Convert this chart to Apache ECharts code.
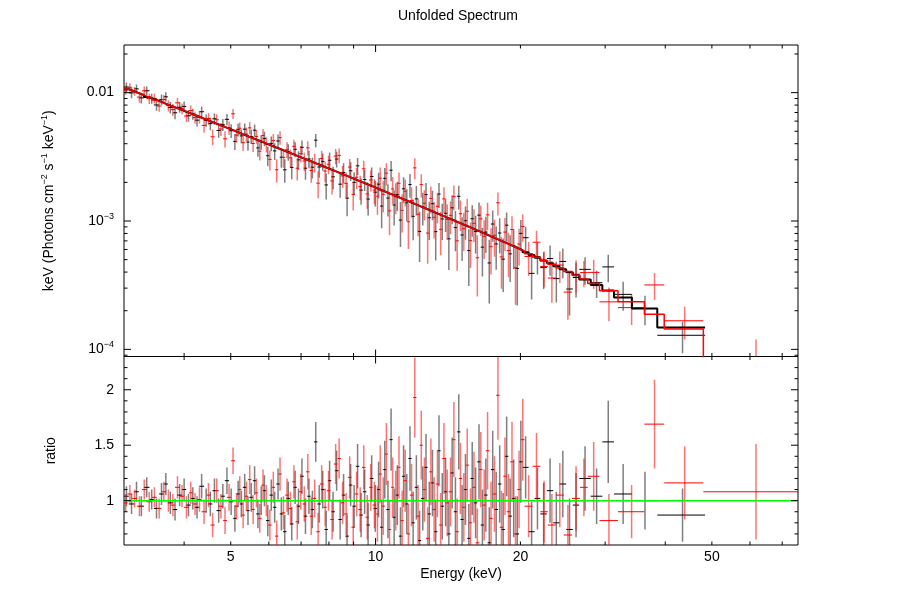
<!DOCTYPE html>
<html><head><meta charset="utf-8">
<script src="https://cdn.jsdelivr.net/npm/echarts@6/dist/echarts.min.js"></script>
<style>html,body{margin:0;padding:0;background:#fff}#c{width:903px;height:606px}</style>
</head><body><div id="c"></div>
<script>
// ---------- axis ranges ----------
const X_MIN = 3, X_MAX = 75.5;
const FLUX_MIN = 8.8e-5, FLUX_MAX = 0.0235;
const RATIO_MIN = 0.6, RATIO_MAX = 2.3;

// ---------- tick labels / tick values ----------
const xLabelValues = [5, 10, 20, 50];
const fluxLabelValues = [0.01, 0.001, 0.0001];
const fluxLabelTexts = ['{b|0.01}', '{b|10}{s|−3}', '{b|10}{s|−4}'];
const ratioLabelValues = [1, 1.5, 2];
const xMajorTicks = [10];
const xMinorTicks = [4, 5, 6, 7, 8, 9, 20, 30, 40, 50, 60, 70];
const fluxMajorTicks = [1e-4, 1e-3, 1e-2];
const fluxMinorTicks = [9e-5, 2e-4, 3e-4, 4e-4, 5e-4, 6e-4, 7e-4, 8e-4, 9e-4, 2e-3, 3e-3, 4e-3, 5e-3, 6e-3, 7e-3, 8e-3, 9e-3, 2e-2];
const ratioMajorTicks = [1, 1.5, 2];
const ratioMinorTicks = [0.7, 0.8, 0.9, 1.1, 1.2, 1.3, 1.4, 1.6, 1.7, 1.8, 1.9, 2.1, 2.2];

// ---------- FPMA (black): bin edges (keV), folded model per bin, data/model ratio and its error ----------
const edgesA = [3.00,3.07,3.15,3.22,3.30,3.39,3.46,3.55,3.63,3.70,3.79,3.87,3.96,4.04,4.13,4.21,4.30,4.40,4.49,4.58,4.67,4.77,4.86,4.96,5.06,
 5.14,5.22,5.30,5.39,5.47,5.56,5.65,5.74,5.83,5.92,6.02,6.12,6.22,6.32,6.42,6.53,6.64,6.75,6.86,6.97,7.09,7.21,7.33,7.45,7.57,7.70,7.83,7.96,8.09,
 8.23,8.37,8.51,8.65,8.80,8.95,9.10,9.25,9.41,9.57,9.73,9.90,10.07,
 10.22,10.37,10.53,10.69,10.85,11.01,11.18,11.35,11.52,11.70,11.88,12.06,12.25,12.44,12.63,12.83,13.03,13.23,13.44,13.65,13.87,14.09,14.31,14.54,14.77,15.01,15.25,15.50,15.75,16.01,
 16.27,16.54,16.81,17.09,17.37,17.66,17.96,18.26,18.57,18.88,19.20,19.53,19.87,20.21,
 20.8,21.4,22.0,22.7,23.4,24.1,24.9,25.7,26.5,28.0,29.6,31.3,34.1,38.5,48.4];
const modelA = [10.63e-3,10.26e-3,9.91e-3,9.58e-3,9.23e-3,8.92e-3,8.62e-3,8.32e-3,8.07e-3,7.82e-3,7.57e-3,7.33e-3,7.10e-3,6.89e-3,6.69e-3,6.49e-3,6.28e-3,6.08e-3,5.91e-3,5.74e-3,5.57e-3,5.41e-3,5.25e-3,5.10e-3,
 4.967e-3,4.854e-3,4.745e-3,4.634e-3,4.526e-3,4.423e-3,4.318e-3,4.217e-3,4.119e-3,4.025e-3,3.930e-3,3.834e-3,3.741e-3,3.652e-3,3.567e-3,3.480e-3,3.393e-3,3.310e-3,3.230e-3,3.153e-3,
 3.076e-3,2.998e-3,2.924e-3,2.853e-3,2.784e-3,2.716e-3,2.647e-3,2.581e-3,2.518e-3,2.455e-3,2.393e-3,2.332e-3,2.275e-3,2.218e-3,2.160e-3,2.106e-3,2.053e-3,2.001e-3,1.950e-3,1.900e-3,1.851e-3,1.803e-3,
 1.759e-3,1.720e-3,1.680e-3,1.641e-3,1.604e-3,1.567e-3,1.531e-3,1.495e-3,1.461e-3,1.427e-3,1.393e-3,1.360e-3,1.328e-3,1.296e-3,1.265e-3,1.235e-3,1.205e-3,1.176e-3,1.147e-3,1.119e-3,
 1.092e-3,1.064e-3,1.038e-3,1.013e-3,0.987e-3,0.962e-3,0.938e-3,0.914e-3,0.891e-3,0.868e-3,0.845e-3,0.823e-3,0.802e-3,0.781e-3,0.760e-3,0.740e-3,0.720e-3,0.701e-3,0.682e-3,0.663e-3,0.645e-3,0.627e-3,0.610e-3,0.593e-3,
 0.570e-3,0.543e-3,0.518e-3,0.493e-3,0.468e-3,0.445e-3,0.421e-3,0.399e-3,0.378e-3,0.350e-3,0.318e-3,0.287e-3,0.253e-3,0.208e-3,0.148e-3];
const ratioA = [1.04,0.97,1.08,0.95,1.12,1.01,0.93,1.06,1.15,0.98,0.92,1.05,1.10,0.96,1.02,0.94,1.13,1.00,0.97,1.09,0.91,1.04,1.18,0.99,
 0.84,1.06,0.97,1.12,0.91,1.03,1.18,0.88,1.00,1.09,0.82,1.05,0.94,1.15,0.88,0.72,1.02,0.79,1.12,0.95,1.22,0.86,1.04,0.92,1.53,0.97,1.10,0.74,1.18,0.90,1.27,0.83,1.05,0.68,1.14,0.95,1.31,0.87,1.08,0.78,1.20,0.93,
 1.10,0.76,1.28,0.92,1.55,0.85,1.05,0.68,1.22,0.97,1.38,0.80,1.12,0.64,1.02,1.30,0.88,1.16,0.72,1.45,0.95,1.08,0.70,1.25,0.90,1.62,0.83,1.10,0.66,1.20,0.98,1.35,0.78,1.05,0.62,1.28,0.92,1.15,0.74,1.40,0.86,1.02,0.70,1.35,
 1.30,0.72,1.02,0.88,1.09,0.80,1.15,0.74,0.96,1.20,1.04,1.53,1.06,1.00,0.87];
const ratioErrA = [0.09,0.09,0.09,0.09,0.09,0.09,0.09,0.10,0.10,0.10,0.10,0.10,0.10,0.10,0.10,0.10,0.11,0.11,0.11,0.11,0.11,0.11,0.12,0.12,
 0.12,0.12,0.12,0.12,0.13,0.13,0.13,0.13,0.13,0.14,0.14,0.14,0.14,0.14,0.15,0.15,0.15,0.15,0.15,0.16,0.16,0.16,0.16,0.17,0.18,0.17,0.17,0.17,0.18,0.18,0.18,0.18,0.19,0.19,0.19,0.19,0.20,0.20,0.20,0.20,0.21,0.21,
 0.25,0.25,0.26,0.26,0.28,0.26,0.27,0.26,0.28,0.27,0.29,0.28,0.29,0.27,0.29,0.30,0.29,0.30,0.29,0.32,0.30,0.31,0.30,0.32,0.31,0.34,0.31,0.32,0.31,0.33,0.32,0.34,0.32,0.33,0.32,0.35,0.34,0.35,0.33,0.36,0.34,0.35,0.34,0.37,
 0.28,0.27,0.28,0.28,0.29,0.28,0.30,0.28,0.29,0.29,0.25,0.37,0.27,0.26,0.24];

// ---------- FPMB (red) ----------
const edgesB = [3.00,3.05,3.12,3.19,3.27,3.34,3.43,3.51,3.59,3.67,3.75,3.83,3.92,4.00,4.09,4.17,4.26,4.35,4.45,4.54,4.63,4.72,4.82,4.91,5.01,
 5.10,5.18,5.26,5.35,5.43,5.52,5.61,5.70,5.79,5.88,5.98,6.08,6.18,6.28,6.38,6.49,6.60,6.71,6.82,6.93,7.05,7.17,7.29,7.41,7.53,7.66,7.79,7.92,8.05,
 8.19,8.33,8.47,8.61,8.76,8.91,9.06,9.21,9.37,9.53,9.69,9.86,10.03,
 10.15,10.30,10.45,10.61,10.77,10.93,11.10,11.27,11.44,11.61,11.79,11.97,12.16,12.35,12.54,12.73,12.93,13.13,13.34,13.55,13.76,13.98,14.20,14.43,14.66,14.89,15.13,15.38,15.63,15.88,
 16.14,16.41,16.68,16.95,17.23,17.52,17.81,18.11,18.42,18.73,19.05,19.37,19.70,20.04,20.40,
 21.2,22.0,22.8,23.7,24.6,25.6,26.6,27.6,29.2,31.9,36.2,39.8,48.0,75.5];
const modelB = [10.69e-3,10.38e-3,10.05e-3,9.71e-3,9.39e-3,9.07e-3,8.75e-3,8.46e-3,8.19e-3,7.93e-3,7.69e-3,7.44e-3,7.21e-3,6.99e-3,6.78e-3,6.58e-3,6.38e-3,6.17e-3,5.99e-3,5.81e-3,5.65e-3,5.48e-3,5.33e-3,5.17e-3,
 5.032e-3,4.910e-3,4.799e-3,4.685e-3,4.576e-3,4.471e-3,4.364e-3,4.261e-3,4.162e-3,4.066e-3,3.969e-3,3.871e-3,3.778e-3,3.687e-3,3.601e-3,3.513e-3,3.424e-3,3.340e-3,3.259e-3,3.181e-3,
 3.103e-3,3.024e-3,2.949e-3,2.877e-3,2.807e-3,2.738e-3,2.668e-3,2.602e-3,2.537e-3,2.474e-3,2.410e-3,2.349e-3,2.291e-3,2.233e-3,2.175e-3,2.120e-3,2.067e-3,2.014e-3,1.962e-3,1.912e-3,1.863e-3,1.814e-3,
 1.774e-3,1.738e-3,1.699e-3,1.660e-3,1.622e-3,1.586e-3,1.548e-3,1.512e-3,1.477e-3,1.444e-3,1.410e-3,1.377e-3,1.344e-3,1.311e-3,1.280e-3,1.250e-3,1.220e-3,1.190e-3,1.161e-3,1.132e-3,
 1.105e-3,1.078e-3,1.051e-3,1.025e-3,1.000e-3,0.974e-3,0.950e-3,0.926e-3,0.902e-3,0.879e-3,0.856e-3,0.834e-3,0.812e-3,0.791e-3,0.770e-3,0.750e-3,0.730e-3,0.711e-3,0.691e-3,0.672e-3,0.654e-3,0.636e-3,0.618e-3,0.601e-3,0.584e-3,
 0.557e-3,0.522e-3,0.491e-3,0.461e-3,0.432e-3,0.405e-3,0.378e-3,0.354e-3,0.326e-3,0.286e-3,0.235e-3,0.188e-3,0.144e-3,0.079e-3];
const ratioB = [0.98,1.06,1.02,0.95,1.10,0.99,1.03,0.93,1.08,1.00,0.96,1.12,1.04,0.94,1.07,0.97,1.01,0.90,1.05,0.78,1.09,0.95,0.82,1.03,
 1.36,0.95,1.10,0.87,1.04,1.19,0.92,1.07,0.84,1.14,1.00,0.78,1.12,0.68,1.24,0.89,1.05,0.93,1.17,0.81,1.08,0.97,1.26,0.86,1.02,0.72,1.15,0.94,1.09,0.83,1.33,1.38,0.98,0.88,1.21,0.76,1.06,0.92,1.30,0.85,1.12,0.96,
 0.88,1.24,0.95,1.42,0.74,1.12,1.00,1.30,0.82,1.18,0.70,1.05,1.93,0.86,1.50,1.10,0.66,1.26,0.92,1.15,0.78,1.38,0.98,1.08,1.55,0.72,1.20,0.94,1.32,0.80,1.12,0.62,1.28,0.96,1.45,0.84,1.06,1.95,0.76,1.22,0.90,1.35,0.70,1.10,1.55,
 0.95,1.31,0.90,0.78,1.05,0.69,1.02,1.12,1.22,0.82,0.90,1.69,1.16,1.08];
const ratioErrB = [0.08,0.08,0.08,0.09,0.09,0.09,0.09,0.09,0.09,0.10,0.10,0.10,0.10,0.10,0.10,0.10,0.11,0.11,0.11,0.11,0.11,0.11,0.12,0.12,
 0.12,0.12,0.12,0.12,0.13,0.13,0.13,0.13,0.13,0.14,0.14,0.14,0.14,0.14,0.15,0.15,0.15,0.15,0.15,0.16,0.16,0.16,0.16,0.17,0.17,0.17,0.17,0.17,0.18,0.18,0.18,0.18,0.19,0.19,0.19,0.19,0.20,0.20,0.20,0.20,0.21,0.21,
 0.25,0.26,0.26,0.28,0.26,0.27,0.27,0.28,0.27,0.28,0.27,0.28,0.36,0.28,0.31,0.29,0.28,0.30,0.29,0.30,0.29,0.32,0.30,0.31,0.34,0.30,0.32,0.31,0.33,0.31,0.32,0.31,0.34,0.32,0.35,0.33,0.34,0.40,0.33,0.35,0.34,0.36,0.34,0.35,0.37,
 0.28,0.30,0.28,0.28,0.29,0.27,0.29,0.26,0.31,0.24,0.24,0.40,0.33,0.43];

// ---------- helpers ----------
const FONT = "'Liberation Sans', Arial, Helvetica, sans-serif";
// unfolded data = model * (data/model); errors scale the same way
function points(edges, model, ratio, err, unfolded) {
  const out = [];
  for (let i = 0; i < ratio.length; i++) {
    const lo = edges[i], hi = edges[i + 1], c = (lo + hi) / 2;
    const s = unfolded ? model[i] : 1;
    const v = ratio[i] * s, e = err[i] * s;
    out.push([c, v, lo, hi, v - e, v + e]);
  }
  return out;
}
function steps(edges, model) {
  const pts = [];
  for (let i = 0; i < model.length; i++) { pts.push([edges[i], model[i]]); pts.push([edges[i + 1], model[i]]); }
  return pts;
}
function errSeries(gi, data, vColor, hColor) {
  return {
    type: 'custom', xAxisIndex: gi, yAxisIndex: gi, clip: true, silent: true,
    dimensions: ['x', 'y', 'xlo', 'xhi', 'ylo', 'yhi'],
    encode: { x: [0, 2, 3], y: [1, 4, 5] },
    data: data,
    renderItem: function (params, api) {
      const pv0 = api.coord([api.value(0), api.value(4)]);
      const pv1 = api.coord([api.value(0), api.value(5)]);
      const pl = api.coord([api.value(2), api.value(1)]);
      const ph = api.coord([api.value(3), api.value(1)]);
      return { type: 'group', children: [
        { type: 'line', shape: { x1: pv0[0], y1: pv0[1], x2: pv1[0], y2: pv1[1] }, style: { stroke: vColor, lineWidth: 1.5 } },
        { type: 'line', shape: { x1: pl[0], y1: pl[1], x2: ph[0], y2: ph[1] }, style: { stroke: hColor, lineWidth: 1 } }
      ] };
    }
  };
}
const MAJ = 7, MIN = 3.5;
function tickSeries(gi, xMaj, xMin, yMaj, yMin, yLo, yHi) {
  const data = [], meta = [];
  const add = (x, y, dx, dy) => { data.push([x, y]); meta.push([dx, dy]); };
  xMaj.forEach(v => { add(v, yLo, 0, -MAJ); add(v, yHi, 0, MAJ); });
  xMin.forEach(v => { add(v, yLo, 0, -MIN); add(v, yHi, 0, MIN); });
  yMaj.forEach(v => { add(X_MIN, v, MAJ, 0); add(X_MAX, v, -MAJ, 0); });
  yMin.forEach(v => { add(X_MIN, v, MIN, 0); add(X_MAX, v, -MIN, 0); });
  return {
    type: 'custom', xAxisIndex: gi, yAxisIndex: gi, silent: true, z: 6, data: data,
    renderItem: function (params, api) {
      const p = api.coord([api.value(0), api.value(1)]);
      const m = meta[params.dataIndex];
      return { type: 'line', shape: { x1: p[0], y1: p[1], x2: p[0] + m[0], y2: p[1] + m[1] }, style: { stroke: '#000', lineWidth: 1 } };
    }
  };
}
const RICH = {
  b: { fontSize: 14, fontFamily: FONT, color: '#000', lineHeight: 18, verticalAlign: 'middle' },
  s: { fontSize: 9, fontFamily: FONT, color: '#000', lineHeight: 10, verticalAlign: 'top' }
};
function labelSeries(gi, items) {
  return {
    type: 'custom', xAxisIndex: gi, yAxisIndex: gi, silent: true, z: 6,
    data: items.map(it => [it.x, it.y]),
    renderItem: function (params, api) {
      const it = items[params.dataIndex];
      const p = api.coord([api.value(0), api.value(1)]);
      return { type: 'text', x: p[0] + it.dx, y: p[1] + it.dy,
        style: { text: it.t, align: it.align, verticalAlign: 'middle', fill: '#000', fontSize: 14, fontFamily: FONT, rich: RICH } };
    }
  };
}
const topLabels = fluxLabelValues.map((v, i) => ({ x: X_MIN, y: v, t: fluxLabelTexts[i], dx: -10, dy: 0, align: 'right' }));
const bottomLabels = ratioLabelValues.map(v => ({ x: X_MIN, y: v, t: '{b|' + v + '}', dx: -10, dy: 0, align: 'right' }))
  .concat(xLabelValues.map(v => ({ x: v, y: RATIO_MIN, t: '{b|' + v + '}', dx: 0, dy: 12, align: 'center' })));

const chart = echarts.init(document.getElementById('c'), null, { renderer: 'canvas' });
chart.setOption({
  animation: false,
  backgroundColor: '#fff',
  title: { text: 'Unfolded Spectrum', left: 398, top: 9, padding: 0,
    textStyle: { fontSize: 14, fontWeight: 'normal', color: '#000', fontFamily: FONT } },
  grid: [
    { left: 124, top: 45, width: 674, height: 311.5, show: true, borderColor: '#000', borderWidth: 1, backgroundColor: 'transparent' },
    { left: 124, top: 356.5, width: 674, height: 188.5, show: true, borderColor: '#000', borderWidth: 1, backgroundColor: 'transparent' }
  ],
  xAxis: [
    { gridIndex: 0, type: 'log', logBase: 10, min: X_MIN, max: X_MAX, axisLine: { show: false }, axisTick: { show: false }, axisLabel: { show: false }, splitLine: { show: false } },
    { gridIndex: 1, type: 'log', logBase: 10, min: X_MIN, max: X_MAX, axisLine: { show: false }, axisTick: { show: false }, axisLabel: { show: false }, splitLine: { show: false },
      name: 'Energy (keV)', nameLocation: 'middle', nameGap: 22, nameTextStyle: { fontSize: 14, color: '#000', fontFamily: FONT } }
  ],
  yAxis: [
    { gridIndex: 0, type: 'log', logBase: 10, min: FLUX_MIN, max: FLUX_MAX, axisLine: { show: false }, axisTick: { show: false }, axisLabel: { show: false }, splitLine: { show: false },
      name: '{b|keV (Photons cm}{s|−2}{b| s}{s|−1}{b| keV}{s|−1}{b|)}', nameLocation: 'middle', nameRotate: 90, nameGap: 66,
      nameTextStyle: { fontSize: 14, color: '#000', fontFamily: FONT, rich: RICH } },
    { gridIndex: 1, type: 'value', min: RATIO_MIN, max: RATIO_MAX, axisLine: { show: false }, axisTick: { show: false }, axisLabel: { show: false }, splitLine: { show: false },
      name: 'ratio', nameLocation: 'middle', nameRotate: 90, nameGap: 66,
      nameTextStyle: { fontSize: 14, color: '#000', fontFamily: FONT } }
  ],
  series: [
    errSeries(0, points(edgesA, modelA, ratioA, ratioErrA, true), 'rgba(0,0,0,0.5)', '#000'),
    errSeries(0, points(edgesB, modelB, ratioB, ratioErrB, true), 'rgba(255,0,0,0.55)', '#f00'),
    { type: 'line', xAxisIndex: 0, yAxisIndex: 0, data: steps(edgesA, modelA), showSymbol: false, symbol: 'none', clip: true, silent: true,
      lineStyle: { color: '#000', width: 2 } },
    { type: 'line', xAxisIndex: 0, yAxisIndex: 0, data: steps(edgesB, modelB), showSymbol: false, symbol: 'none', clip: true, silent: true,
      lineStyle: { color: '#f00', width: 1.5 } },
    errSeries(1, points(edgesA, modelA, ratioA, ratioErrA, false), 'rgba(0,0,0,0.5)', '#000'),
    errSeries(1, points(edgesB, modelB, ratioB, ratioErrB, false), 'rgba(255,0,0,0.55)', '#f00'),
    { type: 'line', xAxisIndex: 1, yAxisIndex: 1, data: [[X_MIN, 1], [X_MAX, 1]], showSymbol: false, symbol: 'none', silent: true,
      lineStyle: { color: '#00ff00', width: 1.5 } },
    tickSeries(0, xMajorTicks, xMinorTicks, fluxMajorTicks, fluxMinorTicks, FLUX_MIN, FLUX_MAX),
    tickSeries(1, xMajorTicks, xMinorTicks, ratioMajorTicks, ratioMinorTicks, RATIO_MIN, RATIO_MAX),
    labelSeries(0, topLabels),
    labelSeries(1, bottomLabels)
  ]
});
</script></body></html>
